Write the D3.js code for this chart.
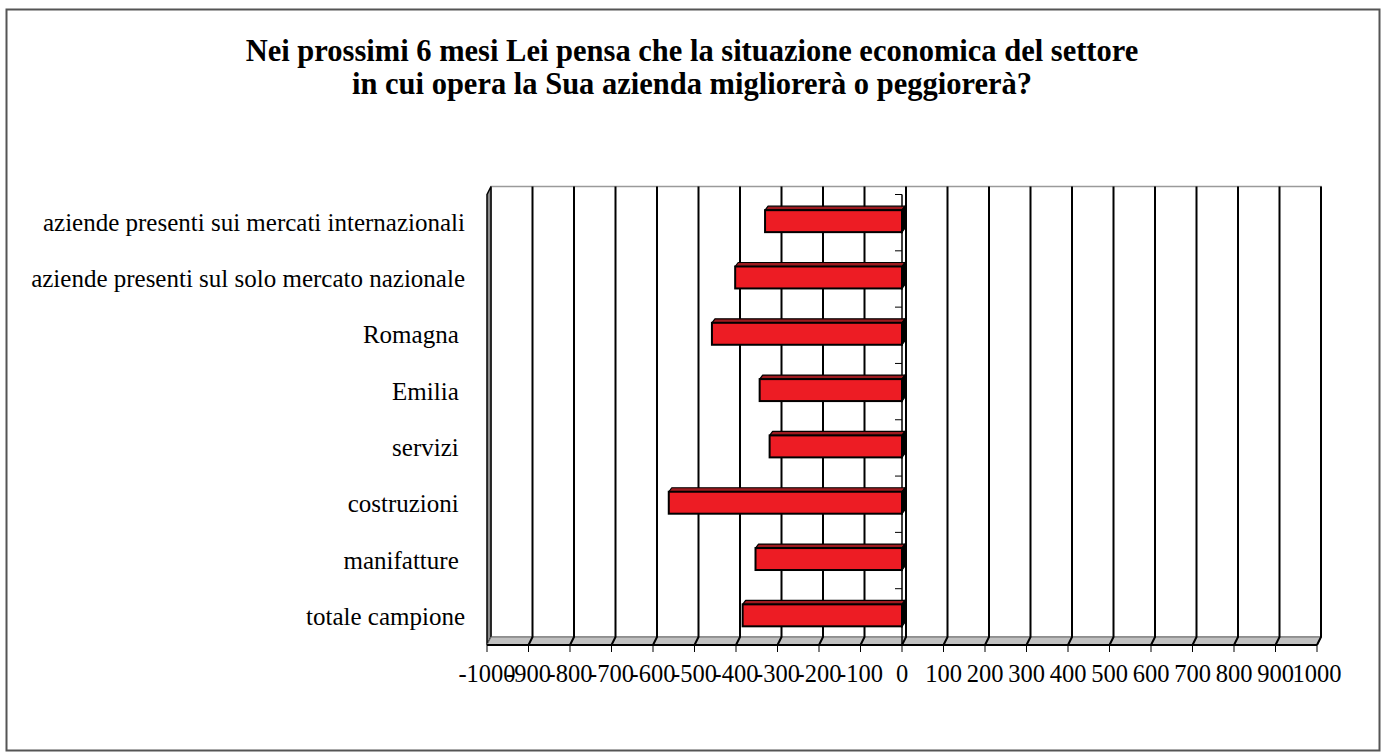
<!DOCTYPE html>
<html>
<head>
<meta charset="utf-8">
<script src="https://d3js.org/d3.v7.min.js"></script>
<style>
  html, body { margin: 0; padding: 0; background: #fff; }
  svg { display: block; }
  text { font-family: "Liberation Serif", "Times New Roman", serif; fill: #000; white-space: pre; }
</style>
</head>
<body>
<svg id="chart" width="1383" height="754"></svg>
<script>
// Title lines
const titleLines = [
  "Nei prossimi 6 mesi Lei pensa che la situazione economica del settore",
  "in cui opera la Sua azienda migliorerà o peggiorerà?"
];

// Categories, top to bottom
const categories = [
  "aziende presenti sui mercati internazionali",
  "aziende presenti sul solo mercato nazionale",
  "Romagna ",
  "Emilia ",
  "servizi ",
  "costruzioni ",
  "manifatture ",
  "totale campione"
];

// Balance values (saldo) for each category
const values = [-330, -402, -458, -343, -319, -562, -353, -384];

// Value-axis ticks and their labels
const tickValues = [-1000, -900, -800, -700, -600, -500, -400, -300, -200, -100,
                    0, 100, 200, 300, 400, 500, 600, 700, 800, 900, 1000];
const tickLabels = ["-1000", "-900", "-800", "-700", "-600", "-500", "-400", "-300", "-200", "-100",
                    "0", "100", "200", "300", "400", "500", "600", "700", "800", "900", "1000"];

const svg = d3.select("#chart");

// Outer frame
svg.append("rect")
  .attr("x", 6.5).attr("y", 9.5)
  .attr("width", 1373).attr("height", 741)
  .attr("fill", "none").attr("stroke", "#555").attr("stroke-width", 2);

// Title
svg.append("g").selectAll("text")
  .data(titleLines).join("text")
  .attr("x", 692).attr("y", (d, i) => 61 + i * 33)
  .attr("text-anchor", "middle")
  .attr("font-size", 30.5).attr("font-weight", "bold")
  .text(d => d);

// Scales (front plane of the 3D box)
const x = d3.scaleLinear().domain([-1000, 1000]).range([487, 1317]);
const y = d3.scaleBand().domain(categories).range([194.5, 645]).padding(0);
const depth = { dx: 4, dy: -8 };
const yTop = y.range()[0], yBot = y.range()[1];

const box = svg.append("g");

// Back wall
box.append("rect")
  .attr("x", x(-1000) + depth.dx).attr("y", yTop + depth.dy)
  .attr("width", x(1000) - x(-1000)).attr("height", yBot - yTop)
  .attr("fill", "#fff").attr("stroke", "#9a9a9a").attr("stroke-width", 1.5);

// Left side wall
box.append("path")
  .attr("d", d3.line()([
    [x(-1000), yTop], [x(-1000) + depth.dx, yTop + depth.dy],
    [x(-1000) + depth.dx, yBot + depth.dy], [x(-1000), yBot]
  ]) + "Z")
  .attr("fill", "#8c8c8c").attr("stroke", "#000").attr("stroke-width", 1.5);

// Floor
box.append("path")
  .attr("d", d3.line()([
    [x(-1000), yBot], [x(-1000) + depth.dx, yBot + depth.dy],
    [x(1000) + depth.dx, yBot + depth.dy], [x(1000), yBot]
  ]) + "Z")
  .attr("fill", "#c0c0c0").attr("stroke", "#6a6a6a").attr("stroke-width", 1);

// Gridlines on the back wall and their continuation across the floor
const gridTicks = tickValues.filter(t => t > -1000);
box.append("g").selectAll("path")
  .data(gridTicks).join("path")
  .attr("d", t => d3.line()([
    [x(t) + depth.dx, yTop + depth.dy],
    [x(t) + depth.dx, yBot + depth.dy],
    [x(t), yBot]
  ]))
  .attr("fill", "none").attr("stroke", "#000").attr("stroke-width", 2);

// Front edge of the floor
box.append("line")
  .attr("x1", x(-1000)).attr("x2", x(1000))
  .attr("y1", yBot).attr("y2", yBot)
  .attr("stroke", "#000").attr("stroke-width", 2);

// Value axis: ticks and labels
const xAxis = svg.append("g");
xAxis.selectAll("line")
  .data(tickValues).join("line")
  .attr("x1", d => x(d)).attr("x2", d => x(d))
  .attr("y1", yBot).attr("y2", yBot + 7)
  .attr("stroke", "#000").attr("stroke-width", 1);
xAxis.selectAll("text")
  .data(tickValues).join("text")
  .attr("x", d => x(d)).attr("y", 682)
  .attr("text-anchor", "middle")
  .attr("font-size", 24.5)
  .text((d, i) => tickLabels[i]);

// Category axis at zero
const cAxis = svg.append("g");
cAxis.append("line")
  .attr("x1", x(0)).attr("x2", x(0))
  .attr("y1", yTop).attr("y2", yBot)
  .attr("stroke", "#000").attr("stroke-width", 1.5);
cAxis.selectAll("line.tick")
  .data(categories).join("line").attr("class", "tick")
  .attr("x1", x(0) - 7).attr("x2", x(0))
  .attr("y1", d => y(d)).attr("y2", d => y(d))
  .attr("stroke", "#000").attr("stroke-width", 1);

// Category labels
svg.append("g").selectAll("text")
  .data(categories).join("text")
  .attr("x", 465)
  .attr("y", d => y(d) + y.bandwidth() / 2 + 8)
  .attr("text-anchor", "end")
  .attr("font-size", 25)
  .text(d => d);

// 3D bars
const barH = y.step() * 0.39;
const bd = { dx: 3, dy: -4 };
const bars = svg.append("g").selectAll("g")
  .data(categories.map((c, i) => ({ c, v: values[i] })))
  .join("g");

bars.each(function (d) {
  const g = d3.select(this);
  const x0 = x(0), x1 = x(d.v);
  const left = Math.min(x0, x1), right = Math.max(x0, x1);
  const top = y(d.c) + (y.step() - barH) / 2 - 1.5;
  // top face
  g.append("path")
    .attr("d", d3.line()([[left, top], [left + bd.dx, top + bd.dy], [right + bd.dx, top + bd.dy], [right, top]]) + "Z")
    .attr("fill", "#9e1a1f").attr("stroke", "#000").attr("stroke-width", 1.2)
    .attr("stroke-linejoin", "round");
  // end face at zero
  g.append("path")
    .attr("d", d3.line()([[right, top], [right + bd.dx, top + bd.dy], [right + bd.dx, top + barH + bd.dy], [right, top + barH]]) + "Z")
    .attr("fill", "#000").attr("stroke", "#000").attr("stroke-width", 1.2);
  // front face
  g.append("rect")
    .attr("x", left).attr("y", top)
    .attr("width", right - left).attr("height", barH)
    .attr("fill", "#ed1c24").attr("stroke", "#000").attr("stroke-width", 2);
});
</script>
</body>
</html>
